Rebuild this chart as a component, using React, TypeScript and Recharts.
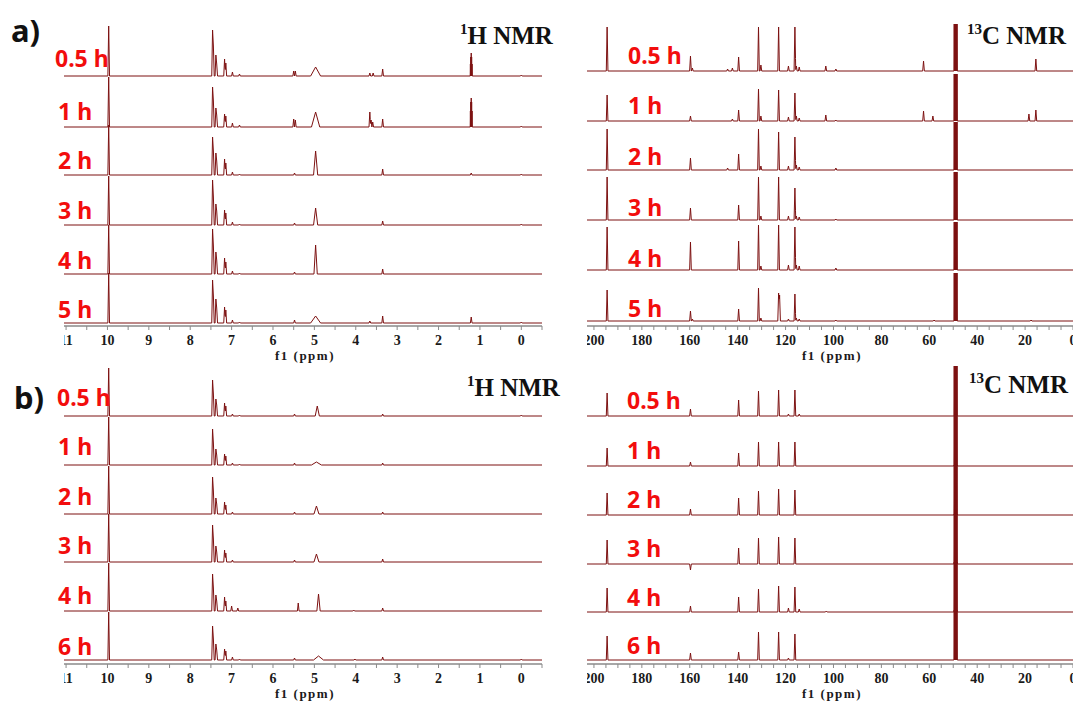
import React from 'react';
import { LineChart, Line, XAxis, YAxis } from 'recharts';

type Peak = number[]; // [ppm, intensity, optional half-width in ppm]

// ---------- tick values ----------
const H1_TICKS = [11, 10.5, 10, 9.5, 9, 8.5, 8, 7.5, 7, 6.5, 6, 5.5, 5, 4.5, 4, 3.5, 3, 2.5, 2, 1.5, 1, 0.5, 0, -0.5];
const C13_TICKS = [200, 195, 190, 185, 180, 175, 170, 165, 160, 155, 150, 145, 140, 135, 130, 125, 120, 115, 110, 105, 100, 95, 90, 85, 80, 75, 70, 65, 60, 55, 50, 45, 40, 35, 30, 25, 20, 15, 10, 5, 0];
const H1_DOMAIN: [number, number] = [-0.5, 11.05];
const C13_DOMAIN: [number, number] = [0, 202.9];

// ---------- sample labels ----------
const TIMES_A = ['0.5 h', '1 h', '2 h', '3 h', '4 h', '5 h'];
const TIMES_B = ['0.5 h', '1 h', '2 h', '3 h', '4 h', '6 h'];

// ---------- panel a) 1H spectra ----------
const H1A_05: Peak[] = [[9.97, 50], [7.46, 46], [7.44, 30], [7.38, 21], [7.36, 12], [7.17, 17], [7.14, 13], [6.98, 4], [6.81, 2], [5.50, 5], [5.46, 5], [4.97, 9, 0.12], [3.66, 3], [3.58, 3], [3.35, 7], [1.23, 12, 0.005], [1.22, 19, 0.005], [1.21, 23, 0.005], [1.20, 19, 0.005], [1.19, 12, 0.005], [0.0, 1]];
const H1A_1: Peak[] = [[9.97, 50], [7.46, 40], [7.44, 26], [7.38, 19], [7.36, 12], [7.17, 13], [7.14, 11], [6.98, 4], [6.81, 2], [5.50, 8], [5.46, 7], [4.97, 15, 0.1], [3.66, 15], [3.63, 7], [3.59, 5], [3.35, 8], [1.23, 16, 0.005], [1.22, 25, 0.005], [1.21, 29, 0.005], [1.20, 25, 0.005], [1.19, 16, 0.005], [0.0, 1]];
const H1A_2: Peak[] = [[9.97, 50], [7.46, 38], [7.44, 24], [7.38, 22], [7.36, 14], [7.17, 16], [7.14, 12], [6.98, 3], [6.81, 1], [5.48, 2], [4.97, 24, 0.05], [3.35, 6], [1.21, 2], [0.0, 1]];
const H1A_3: Peak[] = [[9.97, 49], [7.46, 45], [7.44, 28], [7.38, 21], [7.36, 14], [7.17, 15], [7.14, 12], [6.98, 3], [6.81, 1], [5.48, 2], [4.97, 17, 0.05], [3.35, 4], [0.0, 1]];
const H1A_4: Peak[] = [[9.97, 49], [7.46, 45], [7.44, 28], [7.38, 22], [7.36, 14], [7.17, 16], [7.14, 12], [6.98, 3], [6.81, 1], [5.48, 2], [4.97, 29, 0.04], [3.35, 5]];
const H1A_5: Peak[] = [[9.97, 50], [7.46, 43], [7.44, 27], [7.38, 24], [7.36, 15], [7.17, 16], [7.14, 13], [6.98, 3], [6.81, 1], [5.48, 3], [4.97, 7, 0.12], [3.66, 2], [3.35, 7], [1.21, 6], [0.0, 1]];

// ---------- panel b) 1H spectra ----------
const H1B_05: Peak[] = [[9.97, 48], [7.46, 36], [7.44, 22], [7.38, 17], [7.36, 11], [7.17, 13], [7.14, 10], [6.98, 2], [6.81, 1], [5.48, 2], [4.93, 10, 0.05], [3.35, 2], [0.0, 1]];
const H1B_1: Peak[] = [[9.97, 48], [7.46, 36], [7.44, 22], [7.38, 16], [7.36, 10], [7.17, 11], [7.14, 9], [6.98, 2], [6.81, 1], [5.48, 2], [4.95, 3, 0.12], [3.35, 2]];
const H1B_2: Peak[] = [[9.97, 48], [7.46, 37], [7.44, 23], [7.38, 16], [7.36, 10], [7.17, 12], [7.14, 9], [6.98, 2], [5.48, 2], [4.95, 8, 0.06], [3.35, 2]];
const H1B_3: Peak[] = [[9.97, 48], [7.46, 37], [7.44, 23], [7.38, 16], [7.36, 10], [7.17, 12], [7.14, 9], [6.98, 2], [5.48, 2], [4.95, 8, 0.06], [3.35, 3]];
const H1B_4: Peak[] = [[9.97, 48], [7.46, 37], [7.44, 23], [7.38, 16], [7.36, 10], [7.17, 14], [7.14, 10], [7.0, 5], [6.85, 3], [5.39, 8], [4.90, 17, 0.04], [4.05, 1], [3.35, 3]];
const H1B_6: Peak[] = [[9.97, 48], [7.46, 34], [7.44, 21], [7.38, 16], [7.36, 10], [7.17, 11], [7.14, 9], [6.98, 3], [6.81, 1], [5.48, 2], [4.90, 4, 0.12], [4.02, 1], [3.35, 3], [0.0, 1]];

// ---------- CD3OD solvent septet (ppm) ----------
const SOLVENT_LINES = [49.6, 49.4, 49.2, 49.0, 48.8, 48.6, 48.4];

// ---------- panel a) 13C spectra (solvent height listed separately) ----------
const C13A_05: Peak[] = [[194.5, 44], [159.7, 15], [158.9, 3], [144.2, 2], [142.2, 3], [139.6, 14], [131.3, 44], [130.3, 6], [122.9, 44], [118.8, 5], [116.1, 44], [115.5, 5], [114.3, 4], [103.2, 5], [99.0, 2], [62.4, 10], [15.5, 12]];
const C13A_1: Peak[] = [[194.5, 26], [159.7, 5], [142.2, 2], [139.6, 11], [131.3, 32], [130.3, 5], [122.9, 31], [118.8, 4], [116.1, 28], [115.5, 5], [114.3, 3], [103.2, 6], [99.0, 1], [62.4, 10], [58.5, 5], [18.4, 7], [15.5, 11]];
const C13A_2: Peak[] = [[194.5, 41], [159.7, 12], [144.2, 2], [139.6, 16], [131.3, 41], [130.3, 4], [122.9, 38], [118.8, 4], [116.1, 33], [115.5, 5], [114.3, 3], [99.0, 2]];
const C13A_3: Peak[] = [[194.5, 43], [159.7, 12], [139.6, 15], [131.3, 43], [130.3, 4], [122.9, 43], [118.8, 4], [116.1, 32], [115.5, 4], [114.3, 3], [99.0, 1]];
const C13A_4: Peak[] = [[194.5, 43], [159.7, 28], [139.6, 29], [131.3, 45], [130.3, 4], [122.9, 45], [118.8, 5], [116.1, 43], [115.5, 5], [114.3, 4], [99.0, 2]];
const C13A_5: Peak[] = [[194.5, 31], [159.7, 10], [158.9, 2], [139.6, 12], [131.3, 33], [130.3, 3], [122.9, 28], [122.5, 26], [118.8, 2], [116.1, 27], [115.5, 3], [114.3, 2], [99.0, 1], [58.0, 1], [17.5, 1]];
const C13A_SOLVENT = [47, 47, 48, 48, 48, 48];

// ---------- panel b) 13C spectra ----------
const C13B_05: Peak[] = [[194.5, 23], [159.7, 7], [139.6, 16], [131.3, 25], [122.9, 26], [118.8, 2], [116.1, 26], [114.3, 2]];
const C13B_1: Peak[] = [[194.5, 18], [159.7, 4], [139.6, 13], [131.3, 24], [122.9, 24], [116.1, 24]];
const C13B_2: Peak[] = [[194.5, 22], [159.7, 6], [139.6, 17], [131.3, 24], [122.9, 26], [116.1, 25]];
const C13B_3: Peak[] = [[194.5, 24], [159.7, -6], [139.6, 16], [131.3, 26], [122.9, 27], [116.1, 26]];
const C13B_4: Peak[] = [[194.5, 24], [159.7, 6], [139.6, 15], [131.3, 23], [122.9, 26], [118.8, 4], [116.1, 25], [114.3, 3], [103.0, 1]];
const C13B_6: Peak[] = [[194.5, 24], [159.7, 7], [139.6, 8], [131.3, 28], [122.9, 28], [118.8, 2], [116.1, 26]];
const C13B_SOLVENT = [50, 50, 50, 50, 50, 50];

const SPEC_COLOR = '#7d1111';
const AXIS_COLOR = '#8a8a8a';
const RED = '#f20d0d';
const LABEL_FONT = '"Noto Sans", "Open Sans", sans-serif';
const SERIF = '"Liberation Serif", "Times New Roman", serif';

const withSolvent = (peaks: Peak[], h: number): Peak[] => [...peaks, ...SOLVENT_LINES.map((c) => [c, h, 0.1])];

// sum of triangular line shapes evaluated at their breakpoints
function buildSpectrum(peaks: Peak[], defW: number, xMin: number, xMax: number, offset: number) {
  const tri = peaks.map((p) => ({ c: p[0], h: p[1], w: p.length > 2 ? p[2] : defW }));
  const xs = new Set<number>([xMin, xMax]);
  tri.forEach((t) => {
    xs.add(+(t.c - t.w).toFixed(4));
    xs.add(t.c);
    xs.add(+(t.c + t.w).toFixed(4));
  });
  const sorted = Array.from(xs).filter((x) => x >= xMin && x <= xMax).sort((a, b) => b - a);
  return sorted.map((x) => ({
    x,
    y: offset + tri.reduce((s, t) => s + Math.max(0, 1 - Math.abs(x - t.c) / t.w) * t.h, 0),
  }));
}

const makeTick = (fmt: (v: number) => string) => (props: any) => {
  const { x, y, payload } = props;
  const s = fmt(payload.value);
  if (!s) return <g />;
  return (
    <text x={x} y={y} dy={9} textAnchor="middle" fontSize={14} fontWeight={700} fontFamily={SERIF} fill="#1a1a1a">
      {s}
    </text>
  );
};

interface PanelProps {
  left: number;
  top: number;
  width: number;
  height: number;
  marginTop: number;
  marginLeft: number;
  marginRight: number;
  axisY: number;
  baselines: number[];
  spectra: Peak[][];
  domain: [number, number];
  ticks: number[];
  fmt: (v: number) => string;
  defW: number;
}

function Panel(p: PanelProps) {
  const plotTop = p.top + p.marginTop;
  const D = p.axisY - plotTop;
  return (
    <div style={{ position: 'absolute', left: p.left, top: p.top }}>
      <LineChart width={p.width} height={p.height} margin={{ top: p.marginTop, right: p.marginRight, left: p.marginLeft, bottom: 0 }}>
        <XAxis
          type="number"
          dataKey="x"
          domain={p.domain}
          reversed
          allowDataOverflow
          ticks={p.ticks}
          interval={0}
          height={24}
          tickSize={4}
          tickMargin={6}
          axisLine={{ stroke: AXIS_COLOR, strokeWidth: 1.5 }}
          tickLine={{ stroke: AXIS_COLOR, strokeWidth: 1 }}
          tick={makeTick(p.fmt)}
        />
        <YAxis hide type="number" domain={[0, D]} allowDataOverflow />
        {p.spectra.map((pk, i) => (
          <Line
            key={i}
            data={buildSpectrum(pk, p.defW, p.domain[0], p.domain[1], p.axisY - p.baselines[i])}
            dataKey="y"
            type="linear"
            dot={false}
            activeDot={false}
            stroke={SPEC_COLOR}
            strokeWidth={1}
            isAnimationActive={false}
          />
        ))}
      </LineChart>
    </div>
  );
}

const h1Fmt = (v: number) => (Number.isInteger(v) && v >= 0 ? String(v) : '');
const c13Fmt = (v: number) => (v % 20 === 0 ? String(v) : '');

export default function App() {
  const labelYA1 = [59, 112, 161, 211, 261, 310];
  const labelYA2 = [56, 106, 157, 208, 259, 309];
  const labelYB1 = [398, 447, 497, 546, 596, 647];
  const labelYB2 = [401, 451, 500, 549, 598, 646];
  const c13a = [C13A_05, C13A_1, C13A_2, C13A_3, C13A_4, C13A_5].map((s, i) => withSolvent(s, C13A_SOLVENT[i]));
  const c13b = [C13B_05, C13B_1, C13B_2, C13B_3, C13B_4, C13B_6].map((s, i) => withSolvent(s, C13B_SOLVENT[i]));
  return (
    <div style={{ position: 'absolute', left: 0, top: 0, width: 1073, height: 702, background: '#fff', overflow: 'hidden' }}>
      <Panel left={64} top={0} width={483} height={350} marginTop={12} marginLeft={0} marginRight={5} axisY={326}
        baselines={[76, 127, 175, 225, 274, 323]} spectra={[H1A_05, H1A_1, H1A_2, H1A_3, H1A_4, H1A_5]}
        domain={H1_DOMAIN} ticks={H1_TICKS} fmt={h1Fmt} defW={0.02} />
      <Panel left={587} top={0} width={486} height={350} marginTop={12} marginLeft={0} marginRight={0} axisY={326}
        baselines={[71, 121, 170, 220, 270, 321]} spectra={c13a}
        domain={C13_DOMAIN} ticks={C13_TICKS} fmt={c13Fmt} defW={0.35} />
      <Panel left={64} top={345} width={483} height={343} marginTop={10} marginLeft={0} marginRight={5} axisY={664}
        baselines={[416, 465, 514, 562, 611, 660]} spectra={[H1B_05, H1B_1, H1B_2, H1B_3, H1B_4, H1B_6]}
        domain={H1_DOMAIN} ticks={H1_TICKS} fmt={h1Fmt} defW={0.02} />
      <Panel left={587} top={345} width={486} height={343} marginTop={10} marginLeft={0} marginRight={0} axisY={664}
        baselines={[416, 466, 515, 564, 612, 660]} spectra={c13b}
        domain={C13_DOMAIN} ticks={C13_TICKS} fmt={c13Fmt} defW={0.35} />

      <svg width={1073} height={702} style={{ position: 'absolute', left: 0, top: 0, pointerEvents: 'none' }}>
        <text x={11} y={42} fontSize={31} fontWeight={700} fontFamily={LABEL_FONT} fill="#111">a)</text>
        <text x={14} y={409} fontSize={31} fontWeight={700} fontFamily={LABEL_FONT} fill="#111">b)</text>

        {TIMES_A.map((t, i) => (
          <text key={'a1' + i} x={i === 0 ? 55 : 58} y={labelYA1[i] + 8} fontSize={23} fontWeight={700} fontFamily={LABEL_FONT} fill={RED}>{t}</text>
        ))}
        {TIMES_A.map((t, i) => (
          <text key={'a2' + i} x={628} y={labelYA2[i] + 8} fontSize={23} fontWeight={700} fontFamily={LABEL_FONT} fill={RED}>{t}</text>
        ))}
        {TIMES_B.map((t, i) => (
          <text key={'b1' + i} x={i === 0 ? 57 : 58} y={labelYB1[i] + 8} fontSize={23} fontWeight={700} fontFamily={LABEL_FONT} fill={RED}>{t}</text>
        ))}
        {TIMES_B.map((t, i) => (
          <text key={'b2' + i} x={627} y={labelYB2[i] + 8} fontSize={23} fontWeight={700} fontFamily={LABEL_FONT} fill={RED}>{t}</text>
        ))}

        <text x={460} y={44} fontSize={25} fontWeight={700} fontFamily={SERIF} fill="#111">
          <tspan fontSize={15} dy={-10}>1</tspan><tspan dy={10}>H NMR</tspan>
        </text>
        <text x={467} y={396} fontSize={25} fontWeight={700} fontFamily={SERIF} fill="#111">
          <tspan fontSize={15} dy={-10}>1</tspan><tspan dy={10}>H NMR</tspan>
        </text>
        <text x={967} y={44} fontSize={25} fontWeight={700} fontFamily={SERIF} fill="#111">
          <tspan fontSize={15} dy={-10}>13</tspan><tspan dy={10}>C NMR</tspan>
        </text>
        <text x={969} y={393} fontSize={25} fontWeight={700} fontFamily={SERIF} fill="#111">
          <tspan fontSize={15} dy={-10}>13</tspan><tspan dy={10}>C NMR</tspan>
        </text>

        <text x={305} y={360} textAnchor="middle" fontSize={13} fontWeight={700} fontFamily={SERIF} letterSpacing={1.5} fill="#1a1a1a">f1 (ppm)</text>
        <text x={832} y={360} textAnchor="middle" fontSize={13} fontWeight={700} fontFamily={SERIF} letterSpacing={1.5} fill="#1a1a1a">f1 (ppm)</text>
        <text x={305} y={698} textAnchor="middle" fontSize={13} fontWeight={700} fontFamily={SERIF} letterSpacing={1.5} fill="#1a1a1a">f1 (ppm)</text>
        <text x={832} y={698} textAnchor="middle" fontSize={13} fontWeight={700} fontFamily={SERIF} letterSpacing={1.5} fill="#1a1a1a">f1 (ppm)</text>
      </svg>
    </div>
  );
}
